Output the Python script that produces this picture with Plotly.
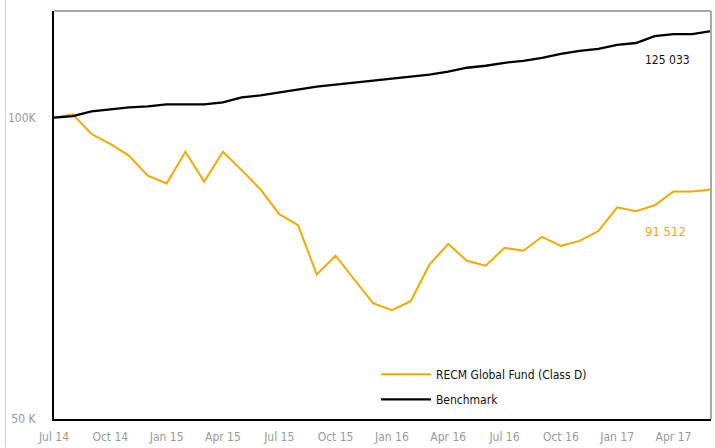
import plotly.graph_objects as go

months = ["Jul 14", "Aug 14", "Sep 14", "Oct 14", "Nov 14", "Dec 14",
          "Jan 15", "Feb 15", "Mar 15", "Apr 15", "May 15", "Jun 15",
          "Jul 15", "Aug 15", "Sep 15", "Oct 15", "Nov 15", "Dec 15",
          "Jan 16", "Feb 16", "Mar 16", "Apr 16", "May 16", "Jun 16",
          "Jul 16", "Aug 16", "Sep 16", "Oct 16", "Nov 16", "Dec 16",
          "Jan 17", "Feb 17", "Mar 17", "Apr 17", "May 17", "Jun 17"]

fund = [100000, 100800, 96310, 94140, 91610, 87530,
        85950, 92450, 86340, 92450, 88640, 84790,
        80090, 78110, 69710, 72790, 68920, 65260,
        64230, 65560, 71310, 74800, 71960, 71150,
        74130, 73620, 76030, 74470, 75320, 77040,
        81380, 80640, 81750, 84400, 84400, 84790]

benchmark = [100000, 100340, 101490, 101950, 102420, 102650,
             103120, 103120, 103120, 103590, 104780, 105260,
             105980, 106700, 107430, 107920, 108420, 108910,
             109410, 109910, 110410, 111170, 112180, 112690,
             113470, 113980, 114760, 115810, 116610, 117140,
             118210, 118750, 120660, 121210, 121210, 122040]

x_ticks = ["Jul 14", "Oct 14", "Jan 15", "Apr 15", "Jul 15", "Oct 15",
           "Jan 16", "Apr 16", "Jul 16", "Oct 16", "Jan 17", "Apr 17"]
x_ticktext = ["Jul 14", "Oct 14", "Jan 15", "Apr 15", "Jul 15", "Oct 15",
              "Jan 16", "Apr 16", "Jul 16", "Oct 16", "Jan 17", "Apr 17"]
y_ticks = [50000, 100000]
y_ticktext = ["50 K", "100K"]

fund_label = "91 512"
bench_label = "125 033"

FONT = "DejaVu Sans Condensed, Liberation Sans Narrow, Roboto, sans-serif"
ORANGE = "#F2AA00"

fig = go.Figure()
fig.add_trace(go.Scatter(x=months, y=fund, mode="lines",
                         name="RECM Global Fund (Class D)", legendgroup="a",
                         line=dict(color=ORANGE, width=2)))
fig.add_trace(go.Scatter(x=months, y=benchmark, mode="lines",
                         name="Benchmark", legendgroup="b",
                         line=dict(color="black", width=2.3)))

fig.update_layout(
    width=715, height=448, autosize=False,
    margin=dict(l=54, r=4, t=11, b=25),
    paper_bgcolor="white", plot_bgcolor="white",
    font=dict(family=FONT, size=12, color="#999999"),
    showlegend=True,
    legend=dict(x=0.49, y=0.145, xanchor="left", yanchor="top",
                bgcolor="rgba(0,0,0,0)", traceorder="grouped",
                font=dict(family=FONT, size=12, color="#111111"),
                tracegroupgap=6, itemwidth=50),
    xaxis=dict(type="category", range=[0, 35],
               tickvals=x_ticks, ticktext=x_ticktext,
               showgrid=False, zeroline=False,
               showline=True, linecolor="black", linewidth=2,
               ticks="", ticklabelstandoff=6,
               tickfont=dict(family=FONT, size=12, color="#9a9a9a")),
    yaxis=dict(type="log", range=[4.69897, 5.1066],
               tickvals=y_ticks, ticktext=y_ticktext,
               showgrid=False, zeroline=False,
               showline=True, linecolor="black", linewidth=2,
               ticks="", ticklabelstandoff=14,
               tickfont=dict(family=FONT, size=12, color="#9a9a9a")),
    shapes=[
        dict(type="line", xref="paper", yref="paper", x0=0, x1=1, y0=1, y1=1,
             line=dict(color="#a8a8a8", width=2)),
        dict(type="line", xref="paper", yref="paper", x0=1, x1=1, y0=0, y1=1,
             line=dict(color="#a8a8a8", width=2)),
        dict(type="line", xref="paper", yref="paper",
             x0=-48.5 / 657, x1=-48.5 / 657, y0=-0.07, y1=1.03,
             line=dict(color="#d0d0d0", width=1)),
    ],
    annotations=[
        dict(x="Jan 17", y=(423 - 60) / 412.3, xref="x", yref="paper",
             text=bench_label, showarrow=False, xanchor="left", xshift=26,
             yanchor="middle",
             font=dict(family=FONT, size=12, color="#111111")),
        dict(x="Jan 17", y=(423 - 234) / 412.3, xref="x", yref="paper",
             text=fund_label, showarrow=False, xanchor="left", xshift=26,
             yanchor="middle",
             font=dict(family=FONT, size=13, color=ORANGE)),
    ],
)

fig.write_html(
    "out.html",
    config={"displayModeBar": False},
    post_script="document.body.style.margin='0';document.body.style.padding='0';"
                "document.body.style.overflow='hidden';",
)
